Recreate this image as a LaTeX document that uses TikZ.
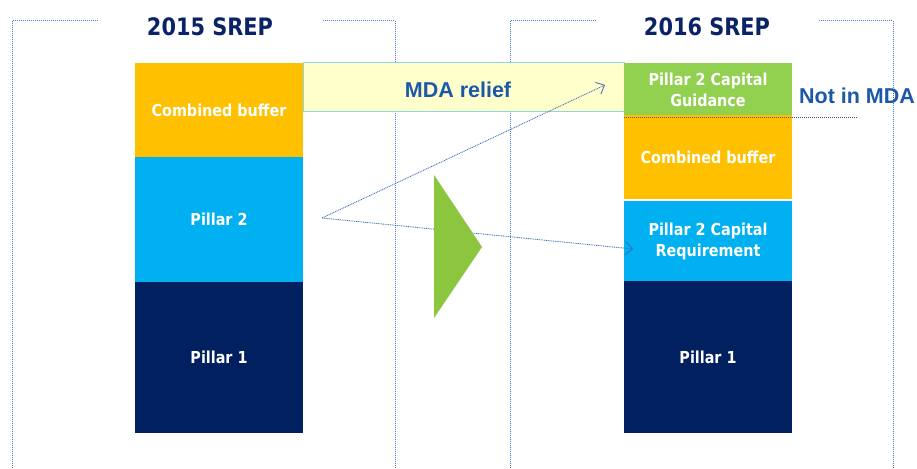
\documentclass[tikz,border=0pt]{standalone}
\usepackage{fontspec}
\setmainfont{DejaVu Sans}
\newfontfamily\labelfont{DejaVu Sans}[FakeStretch=0.87]
\newfontfamily\arialfont{Liberation Sans}
\usetikzlibrary{arrows.meta}

\definecolor{navy}{HTML}{002060}
\definecolor{titlenavy}{HTML}{0A2266}
\definecolor{bufferorange}{HTML}{FFC000}
\definecolor{pillarblue}{HTML}{00B0F0}
\definecolor{guidegreen}{HTML}{92D050}
\definecolor{arrowgreen}{HTML}{8CC63F}
\definecolor{framelines}{HTML}{4A78C4}
\definecolor{relieffill}{HTML}{FFFFCC}
\definecolor{reliefedge}{HTML}{8ED8E4}
\definecolor{mdablue}{HTML}{1C58A8}
\definecolor{linkblue}{HTML}{3A6AB8}
\definecolor{cutline}{HTML}{3F5478}

\tikzset{
  frame/.style={draw=framelines, line width=1pt, dash pattern=on 1pt off 1pt},
  bar/.style={inner sep=0pt, outer sep=0pt, minimum width=168pt, text=white,
              font=\labelfont\bfseries\fontsize{16.5}{21}\selectfont, align=center},
  title/.style={text=titlenavy, font=\labelfont\bfseries\fontsize{24}{28}\selectfont},
  bluelabel/.style={text=mdablue, font=\arialfont\bfseries\fontsize{21.5}{24}\selectfont},
  link/.style={draw=linkblue, line width=0.8pt, dash pattern=on 1pt off 0.8pt,
               -{Straight Barb[length=7pt,width=13pt,line width=0.8pt]}},
}

\begin{document}
\begin{tikzpicture}[x=1pt,y=-1pt]
\useasboundingbox (0,0) rectangle (917,468);

% dotted frames around the two columns
\draw[frame] (98,21) -- (12,21) -- (12,468);
\draw[frame] (323,21) -- (395,21) -- (395,468);
\draw[frame] (596,21) -- (510,21) -- (510,468);
\draw[frame] (819,21) -- (893,21) -- (893,468);

% titles
\node[title] (t15) at (210,27) {2015 SREP};
\node[title] (t16) at (707,27) {2016 SREP};

% MDA relief band
\node[draw=reliefedge, fill=relieffill, line width=1pt, inner sep=0pt,
      minimum width=321pt, minimum height=49pt] (relief) at (463.5,87.5) {};
\node[bluelabel] (relieftext) at (458,90) {MDA relief};

% 2015 stack
\node[bar, fill=bufferorange, minimum height=94pt]  (cb15) at (219,110) {Combined buffer};
\node[bar, fill=pillarblue,   minimum height=125pt] (p215) at (219,219.5) {Pillar 2};
\node[bar, fill=navy,         minimum height=151pt] (p115) at (219,357.5) {Pillar 1};

% 2016 stack
\node[bar, fill=guidegreen,   minimum height=54pt]  (p2g)  at (708,90) {Pillar 2 Capital\\Guidance};
\node[bar, fill=bufferorange, minimum height=84pt]  (cb16) at (708,157) {Combined buffer};
\node[bar, fill=pillarblue,   minimum height=80pt]  (p2r)  at (708,241) {Pillar 2 Capital\\Requirement};
\node[bar, fill=navy,         minimum height=152pt] (p116) at (708,357) {Pillar 1};

% limit of the MDA-relevant part
\coordinate (cutend) at (858,117);
\draw[draw=cutline, line width=1pt, dash pattern=on 1pt off 1pt] (p2g.south west) -- (cutend);
\node[bluelabel] (nim) at (857,96) {Not in MDA};

% Pillar 2 split into guidance and requirement
\coordinate (split) at (322,218);
\coordinate (toguide) at (605,85);
\coordinate (toreq) at (633,249);
\draw[link] (split) -- (toguide);
\draw[link] (split) -- (toreq);

% transition arrow
\fill[arrowgreen] (434,175) -- (482,247) -- (434,318) -- cycle;
\end{tikzpicture}
\end{document}
